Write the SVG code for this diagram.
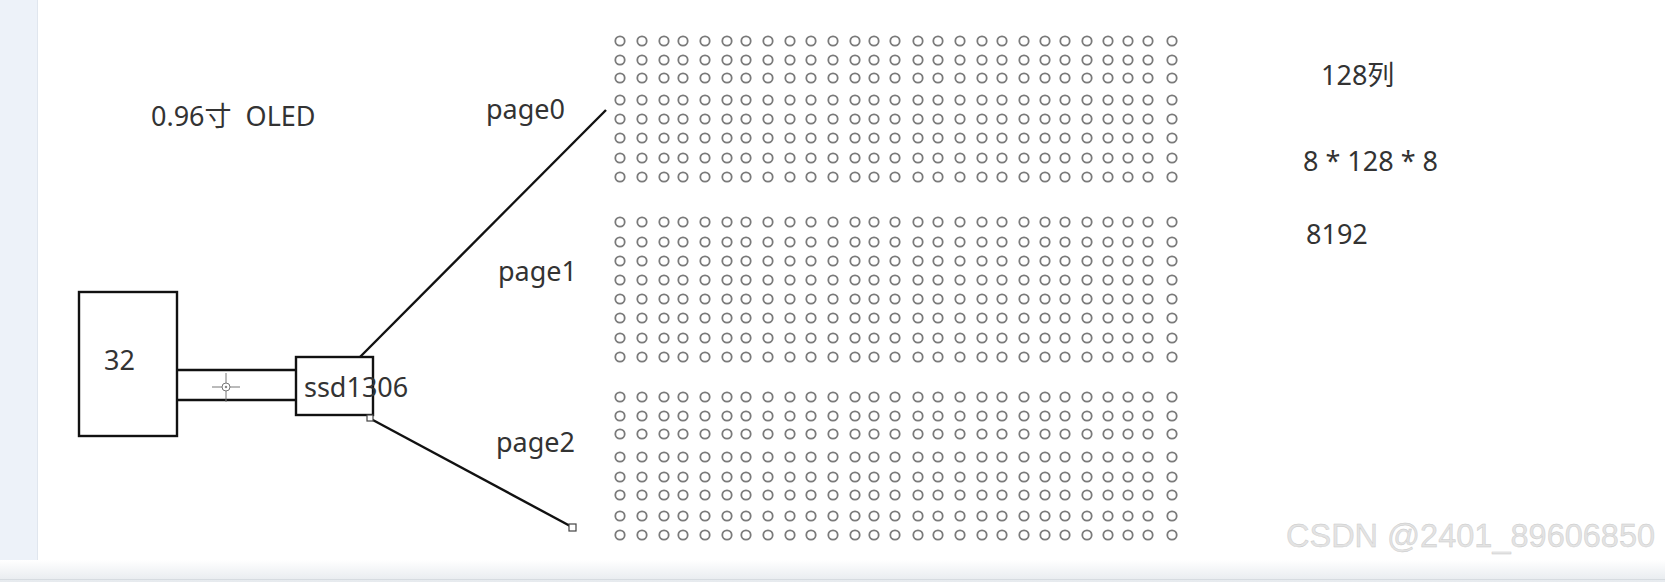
<svg xmlns="http://www.w3.org/2000/svg" xmlns:xlink="http://www.w3.org/1999/xlink" width="1665" height="582" viewBox="0 0 1665 582">
<style>
.t{font-family:"Noto Sans","Noto Sans CJK SC",sans-serif;font-size:27px;fill:#333;white-space:pre;}
.box{fill:#fff;stroke:#111;stroke-width:2.4;}
.ln{stroke:#111;stroke-width:2.4;fill:none;}
.hd{fill:#fff;stroke:#444;stroke-width:1.2;}
.px{fill:none;stroke:#7a7a7a;stroke-width:1.8;}
.wm{font-family:"Liberation Sans",Arial,sans-serif;font-size:32.5px;fill:#e3e3e3;stroke:#c8c8c8;stroke-width:0.4;}
</style>
<defs>
<linearGradient id="bot" x1="0" y1="0" x2="0" y2="1">
<stop offset="0" stop-color="#ffffff"/>
<stop offset="1" stop-color="#e6eaee"/>
</linearGradient>
<g id="row">
<circle class="px" cx="620" cy="0" r="4.7"/><circle class="px" cx="642" cy="0" r="4.7"/><circle class="px" cx="664" cy="0" r="4.7"/><circle class="px" cx="683" cy="0" r="4.7"/><circle class="px" cx="705" cy="0" r="4.7"/><circle class="px" cx="727" cy="0" r="4.7"/><circle class="px" cx="746" cy="0" r="4.7"/><circle class="px" cx="768" cy="0" r="4.7"/><circle class="px" cx="790" cy="0" r="4.7"/><circle class="px" cx="811" cy="0" r="4.7"/><circle class="px" cx="833" cy="0" r="4.7"/><circle class="px" cx="855" cy="0" r="4.7"/><circle class="px" cx="874" cy="0" r="4.7"/><circle class="px" cx="895" cy="0" r="4.7"/><circle class="px" cx="918" cy="0" r="4.7"/><circle class="px" cx="938" cy="0" r="4.7"/><circle class="px" cx="960" cy="0" r="4.7"/><circle class="px" cx="982" cy="0" r="4.7"/><circle class="px" cx="1002" cy="0" r="4.7"/><circle class="px" cx="1024" cy="0" r="4.7"/><circle class="px" cx="1045" cy="0" r="4.7"/><circle class="px" cx="1065" cy="0" r="4.7"/><circle class="px" cx="1087" cy="0" r="4.7"/><circle class="px" cx="1108" cy="0" r="4.7"/><circle class="px" cx="1128" cy="0" r="4.7"/><circle class="px" cx="1148" cy="0" r="4.7"/><circle class="px" cx="1172" cy="0" r="4.7"/>
</g>
</defs>
<rect x="0" y="0" width="1665" height="582" fill="#ffffff"/>
<rect x="0" y="0" width="37" height="582" fill="#edf2f9"/>
<line x1="37.5" y1="0" x2="37.5" y2="582" stroke="#e0e6ee" stroke-width="1"/>
<rect x="0" y="560" width="1665" height="22" fill="url(#bot)"/>
<line x1="0" y1="579.5" x2="1665" y2="579.5" stroke="#d6dbe0" stroke-width="1"/>

<g id="title"><text class="t" x="151" y="126" xml:space="preserve">0.96寸  OLED</text></g>

<g id="connectors">
<line class="ln" x1="172" y1="370" x2="297" y2="370"/>
<line class="ln" x1="176" y1="400" x2="297" y2="400"/>
<line class="ln" x1="360" y1="357" x2="606" y2="110"/>
<line class="ln" x1="371" y1="419" x2="572" y2="527"/>
<g stroke="#777" stroke-width="1" fill="none">
<line x1="212" y1="387" x2="240" y2="387"/>
<line x1="226" y1="373" x2="226" y2="402"/>
<circle cx="226" cy="387" r="4" fill="#fff"/>
<circle cx="226" cy="387" r="0.8" fill="#777"/>
</g>
<rect class="hd" x="569" y="524" width="7" height="7"/>
</g>

<g id="node-32">
<rect class="box" x="79" y="292" width="98" height="144"/>
<text class="t" x="104" y="370">32</text>
</g>

<g id="node-ssd1306">
<rect class="box" x="296" y="357" width="77" height="58"/>
<text class="t" x="304" y="397">ssd1306</text>
<rect class="hd" x="367" y="415" width="6" height="6"/>
</g>

<g id="page0">
<text class="t" x="486" y="119">page0</text>
<use xlink:href="#row" y="41"/><use xlink:href="#row" y="60"/><use xlink:href="#row" y="78"/><use xlink:href="#row" y="100"/><use xlink:href="#row" y="119"/><use xlink:href="#row" y="138"/><use xlink:href="#row" y="158"/><use xlink:href="#row" y="177"/>
</g>
<g id="page1">
<text class="t" x="498" y="281">page1</text>
<use xlink:href="#row" y="222"/><use xlink:href="#row" y="242"/><use xlink:href="#row" y="261"/><use xlink:href="#row" y="280"/><use xlink:href="#row" y="299"/><use xlink:href="#row" y="318"/><use xlink:href="#row" y="338"/><use xlink:href="#row" y="357"/>
</g>
<g id="page2">
<text class="t" x="496" y="452">page2</text>
<use xlink:href="#row" y="397"/><use xlink:href="#row" y="416"/><use xlink:href="#row" y="434"/><use xlink:href="#row" y="457"/><use xlink:href="#row" y="477"/><use xlink:href="#row" y="495"/><use xlink:href="#row" y="516"/><use xlink:href="#row" y="535"/>
</g>

<g id="info">
<text class="t" x="1321" y="85">128列</text>
<text class="t" x="1303" y="171">8 * 128 * 8</text>
<text class="t" x="1306" y="244">8192</text>
</g>

<g id="watermark"><text class="wm" x="1286" y="547">CSDN @2401_89606850</text></g>
</svg>
